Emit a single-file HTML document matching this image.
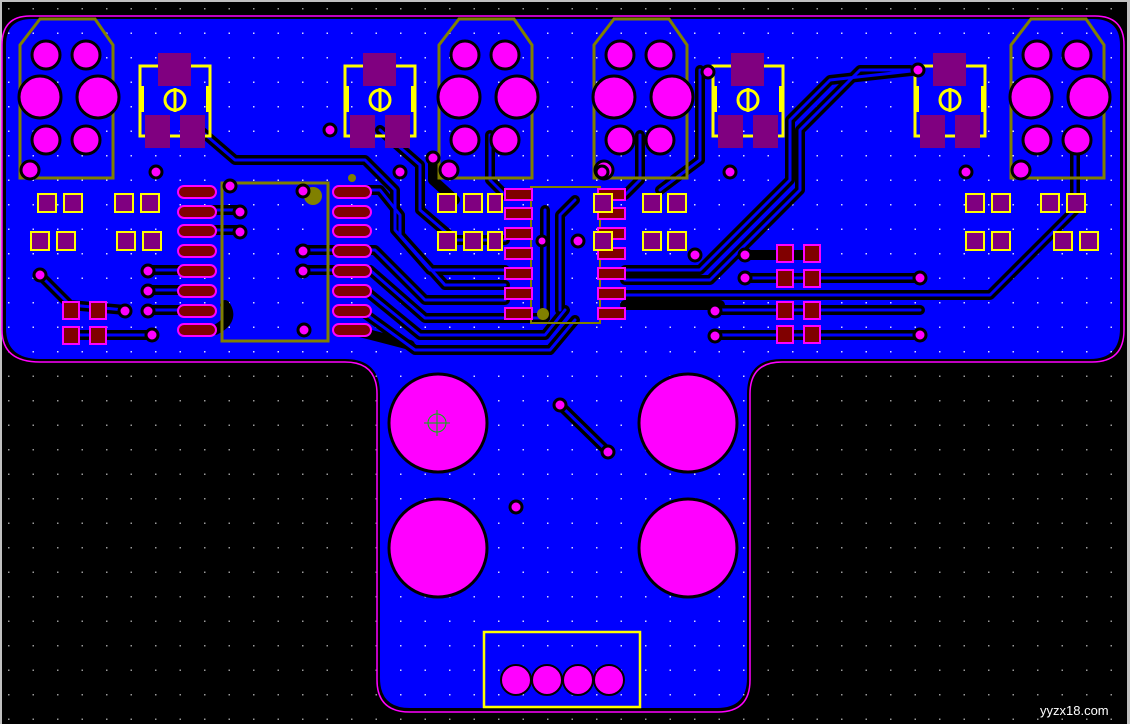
<!DOCTYPE html>
<html><head><meta charset="utf-8"><style>
html,body{margin:0;padding:0;background:#000;width:1130px;height:724px;overflow:hidden}
svg{display:block}
</style></head><body>
<svg width="1130" height="724" viewBox="0 0 1130 724" xmlns="http://www.w3.org/2000/svg">
<defs>
<pattern id="g" width="24.5" height="24.5" patternUnits="userSpaceOnUse" x="8" y="8"><rect width="1.5" height="1.5" fill="#9a9a9a"/></pattern>
<pattern id="gw" width="24.5" height="24.5" patternUnits="userSpaceOnUse" x="8" y="8"><rect width="1.5" height="1.5" fill="#d8d8ff"/></pattern>
</defs>
<rect width="1130" height="724" fill="#000"/>
<rect width="1130" height="724" fill="url(#g)"/>
<rect x="0" y="0" width="1130" height="2" fill="#c0c0c0"/>
<rect x="0" y="0" width="2" height="724" fill="#c0c0c0"/>
<rect x="1127" y="0" width="3" height="724" fill="#c0c0c0"/>
<!-- board -->
<path d="M2,45 Q2,16 30,16 L1095,16 Q1124,16 1124,45 L1124,330 Q1124,362 1092,362 L782,362 Q750,362 750,394 L750,680 Q750,712 718,712 L410,712 Q377,712 377,680 L377,394 Q377,362 345,362 L40,362 Q2,362 2,330 Z" fill="none" stroke="#ff00ff" stroke-width="1.5"/>
<path d="M6,45 Q6,19 32,19 L1093,19 Q1120,19 1120,45 L1120,328 Q1120,359 1090,359 L782,359 Q747,359 747,394 L747,678 Q747,708 717,708 L410,708 Q380,708 380,678 L380,394 Q380,359 345,359 L40,359 Q6,359 6,328 Z" fill="#0000ff"/>
<path d="M6,45 Q6,19 32,19 L1093,19 Q1120,19 1120,45 L1120,328 Q1120,359 1090,359 L782,359 Q747,359 747,394 L747,678 Q747,708 717,708 L410,708 Q380,708 380,678 L380,394 Q380,359 345,359 L40,359 Q6,359 6,328 Z" fill="url(#gw)"/>

<!-- traces -->
<g fill="none" stroke-linejoin="round" stroke-linecap="round">
<g stroke="#000" stroke-width="10">
<path d="M200,130 L235,160 L365,160 L395,190 L395,230 L430,270 L505,270"/>
<path d="M380,130 L420,165 L420,210 L455,240 L505,240"/>
<path d="M352,190 L380,190 L400,215 L400,235 L445,285 L505,285"/>
<path d="M352,250 L375,250 L425,300 L505,300"/>
<path d="M352,270 L370,270 L425,318 L545,318"/>
<path d="M352,290 L365,290 L420,335 L545,335 L565,310"/>
<path d="M352,310 L360,310 L415,350 L550,350 L575,320"/>
<path d="M352,330 L410,345"/>
<path d="M505,195 L490,180 L490,135"/>
<path d="M625,195 L640,180 L640,135"/>
<path d="M545,210 L545,318"/>
<path d="M575,200 L560,215 L560,310"/>
<path d="M625,270 L700,270 L790,180 L790,120 L830,80 L920,70"/>
<path d="M625,280 L710,280 L800,190 L800,130 L860,70 L910,70"/>
<path d="M625,295 L990,295 L1075,210 L1075,140"/>
<path d="M625,305 L720,305"/>
<path d="M715,310 L920,310"/>
<path d="M715,335 L920,335"/>
<path d="M745,255 L810,255"/>
<path d="M745,278 L920,278"/>
<path d="M700,70 L700,160 L660,190"/>
<path d="M40,275 L70,305 L125,310"/>
<path d="M70,335 L150,335"/>
<path d="M148,270 L200,270"/>
<path d="M148,290 L200,290"/>
<path d="M148,310 L200,310"/>
<path d="M240,210 L200,210"/>
<path d="M240,230 L200,230"/>
<path d="M300,250 L352,250"/>
<path d="M300,270 L352,270"/>
<path d="M560,405 L608,452"/>
<path d="M433,158 L433,180 L455,200"/>
<path d="M215,330 Q235,320 225,305"/>
</g>
<g stroke="#0000ff" stroke-width="3">
<path d="M200,130 L235,160 L365,160 L395,190 L395,230 L430,270 L505,270"/>
<path d="M380,130 L420,165 L420,210 L455,240 L505,240"/>
<path d="M352,190 L380,190 L400,215 L400,235 L445,285 L505,285"/>
<path d="M352,250 L375,250 L425,300 L505,300"/>
<path d="M352,270 L370,270 L425,318 L545,318"/>
<path d="M352,290 L365,290 L420,335 L545,335 L565,310"/>
<path d="M352,310 L360,310 L415,350 L550,350 L575,320"/>
<path d="M505,195 L490,180 L490,135"/>
<path d="M625,195 L640,180 L640,135"/>
<path d="M545,210 L545,318"/>
<path d="M575,200 L560,215 L560,310"/>
<path d="M625,270 L700,270 L790,180 L790,120 L830,80 L920,70"/>
<path d="M625,280 L710,280 L800,190 L800,130 L860,70 L910,70"/>
<path d="M625,295 L990,295 L1075,210 L1075,140"/>
<path d="M715,310 L920,310"/>
<path d="M715,335 L920,335"/>
<path d="M745,278 L920,278"/>
<path d="M700,70 L700,160 L660,190"/>
<path d="M40,275 L70,305 L125,310"/>
<path d="M70,335 L150,335"/>
<path d="M148,270 L200,270"/><path d="M148,290 L200,290"/><path d="M148,310 L200,310"/>
<path d="M240,210 L200,210"/><path d="M240,230 L200,230"/>
<path d="M300,250 L352,250"/><path d="M300,270 L352,270"/>
<path d="M560,405 L608,452"/>
</g>
</g>

<!-- connectors -->
<g id="con">
<polygon points="40,19 95,19 113,45 113,178 20,178 20,45" fill="none" stroke="#808000" stroke-width="3"/>
<g fill="#ff00ff" stroke="#000" stroke-width="3">
<circle cx="46" cy="55" r="14"/><circle cx="86" cy="55" r="14"/>
<circle cx="40" cy="97" r="21"/><circle cx="98" cy="97" r="21"/>
<circle cx="46" cy="140" r="14"/><circle cx="86" cy="140" r="14"/>
<circle cx="30" cy="170" r="9"/>
</g>
</g>
<use href="#con" x="419"/>
<use href="#con" x="574"/>
<use href="#con" x="991"/>

<!-- switches -->
<g id="sw">
<rect x="140" y="66" width="70" height="70" fill="none" stroke="#ffff00" stroke-width="3"/>
<rect x="150" y="75" width="50" height="50" fill="#0000ff"/>
<rect x="140" y="86" width="4" height="26" fill="#ffff00"/><rect x="206" y="86" width="4" height="26" fill="#ffff00"/>
<rect x="158" y="53" width="33" height="33" fill="#800080"/>
<rect x="145" y="115" width="25" height="33" fill="#800080"/>
<rect x="180" y="115" width="25" height="33" fill="#800080"/>
<circle cx="175" cy="100" r="10" fill="none" stroke="#ffff00" stroke-width="3"/>
<rect x="173.5" y="88" width="3" height="24" fill="#ffff00"/>
</g>
<use href="#sw" x="205"/>
<use href="#sw" x="573"/>
<use href="#sw" x="775"/>

<!-- left IC -->
<rect x="222" y="183" width="106" height="158" fill="none" stroke="#808000" stroke-width="3"/>
<circle cx="313" cy="196" r="9" fill="#808000"/><circle cx="352" cy="178" r="4" fill="#808000"/>
<g id="lp" fill="#800000" stroke="#ff00ff" stroke-width="2">
<rect x="178" y="186" width="38" height="12" rx="6"/><rect x="178" y="206" width="38" height="12" rx="6"/>
<rect x="178" y="225" width="38" height="12" rx="6"/><rect x="178" y="245" width="38" height="12" rx="6"/>
<rect x="178" y="265" width="38" height="12" rx="6"/><rect x="178" y="285" width="38" height="12" rx="6"/>
<rect x="178" y="305" width="38" height="12" rx="6"/><rect x="178" y="324" width="38" height="12" rx="6"/>
</g>
<use href="#lp" x="155"/>

<!-- middle IC -->
<rect x="531" y="187" width="69" height="136" fill="none" stroke="#808000" stroke-width="2"/>
<circle cx="543" cy="314" r="6" fill="#808000"/>
<g id="mp" fill="#800000" stroke="#ff00ff" stroke-width="2">
<rect x="505" y="189" width="27" height="11"/><rect x="505" y="208" width="27" height="11"/>
<rect x="505" y="228" width="27" height="11"/><rect x="505" y="248" width="27" height="11"/>
<rect x="505" y="268" width="27" height="11"/><rect x="505" y="288" width="27" height="11"/>
<rect x="505" y="308" width="27" height="11"/>
</g>
<use href="#mp" x="93"/>

<!-- small SMD pads -->
<g fill="#800080" stroke="#ffff00" stroke-width="2">
<rect x="38" y="194" width="18" height="18"/><rect x="64" y="194" width="18" height="18"/>
<rect x="115" y="194" width="18" height="18"/><rect x="141" y="194" width="18" height="18"/>
<rect x="31" y="232" width="18" height="18"/><rect x="57" y="232" width="18" height="18"/>
<rect x="117" y="232" width="18" height="18"/><rect x="143" y="232" width="18" height="18"/>
<rect x="438" y="194" width="18" height="18"/><rect x="464" y="194" width="18" height="18"/><rect x="488" y="194" width="14" height="18"/>
<rect x="438" y="232" width="18" height="18"/><rect x="464" y="232" width="18" height="18"/><rect x="488" y="232" width="14" height="18"/>
<rect x="594" y="194" width="18" height="18"/><rect x="643" y="194" width="18" height="18"/><rect x="668" y="194" width="18" height="18"/>
<rect x="594" y="232" width="18" height="18"/><rect x="643" y="232" width="18" height="18"/><rect x="668" y="232" width="18" height="18"/>
<rect x="966" y="194" width="18" height="18"/><rect x="992" y="194" width="18" height="18"/>
<rect x="1041" y="194" width="18" height="18"/><rect x="1067" y="194" width="18" height="18"/>
<rect x="966" y="232" width="18" height="18"/><rect x="992" y="232" width="18" height="18"/>
<rect x="1054" y="232" width="18" height="18"/><rect x="1080" y="232" width="18" height="18"/>
</g>
<g fill="#800000" stroke="#ff00ff" stroke-width="2">
<rect x="63" y="302" width="16" height="17"/><rect x="90" y="302" width="16" height="17"/>
<rect x="63" y="327" width="16" height="17"/><rect x="90" y="327" width="16" height="17"/>
<rect x="777" y="245" width="16" height="17"/><rect x="804" y="245" width="16" height="17"/>
<rect x="777" y="270" width="16" height="17"/><rect x="804" y="270" width="16" height="17"/>
<rect x="777" y="302" width="16" height="17"/><rect x="804" y="302" width="16" height="17"/>
<rect x="777" y="326" width="16" height="17"/><rect x="804" y="326" width="16" height="17"/>
</g>

<!-- vias -->
<g fill="#ff00ff" stroke="#000" stroke-width="3">
<circle cx="156" cy="172" r="6"/><circle cx="230" cy="186" r="6"/><circle cx="240" cy="212" r="6"/><circle cx="240" cy="232" r="6"/>
<circle cx="303" cy="191" r="6"/><circle cx="303" cy="251" r="6"/><circle cx="303" cy="271" r="6"/><circle cx="304" cy="330" r="6"/>
<circle cx="148" cy="271" r="6"/><circle cx="148" cy="291" r="6"/><circle cx="148" cy="311" r="6"/>
<circle cx="40" cy="275" r="6"/><circle cx="125" cy="311" r="6"/><circle cx="152" cy="335" r="6"/>
<circle cx="330" cy="130" r="6"/><circle cx="400" cy="172" r="6"/><circle cx="433" cy="158" r="6"/>
<circle cx="542" cy="241" r="5"/><circle cx="578" cy="241" r="6"/><circle cx="602" cy="172" r="6"/>
<circle cx="708" cy="72" r="6"/><circle cx="730" cy="172" r="6"/><circle cx="695" cy="255" r="6"/>
<circle cx="745" cy="255" r="6"/><circle cx="745" cy="278" r="6"/><circle cx="715" cy="311" r="6"/><circle cx="715" cy="336" r="6"/>
<circle cx="918" cy="70" r="6"/><circle cx="966" cy="172" r="6"/><circle cx="920" cy="278" r="6"/><circle cx="920" cy="335" r="6"/>
<circle cx="560" cy="405" r="6"/><circle cx="608" cy="452" r="6"/><circle cx="516" cy="507" r="6"/>
</g>

<!-- big holes -->
<g fill="#ff00ff" stroke="#000" stroke-width="3">
<circle cx="438" cy="423" r="49"/><circle cx="688" cy="423" r="49"/>
<circle cx="438" cy="548" r="49"/><circle cx="688" cy="548" r="49"/>
</g>
<g stroke="#00c000" stroke-width="1" fill="none"><circle cx="437" cy="423" r="9"/><line x1="437" y1="410" x2="437" y2="436"/><line x1="424" y1="423" x2="450" y2="423"/></g>

<!-- header -->
<rect x="484" y="632" width="156" height="75" fill="none" stroke="#ffff00" stroke-width="2.5"/>
<g fill="#ff00ff" stroke="#000" stroke-width="2">
<circle cx="516" cy="680" r="15"/><circle cx="547" cy="680" r="15"/><circle cx="578" cy="680" r="15"/><circle cx="609" cy="680" r="15"/>
</g>
<text x="1040" y="715" font-family="Liberation Sans, sans-serif" font-size="13" fill="#fff">yyzx18.com</text>
</svg>
</body></html>
